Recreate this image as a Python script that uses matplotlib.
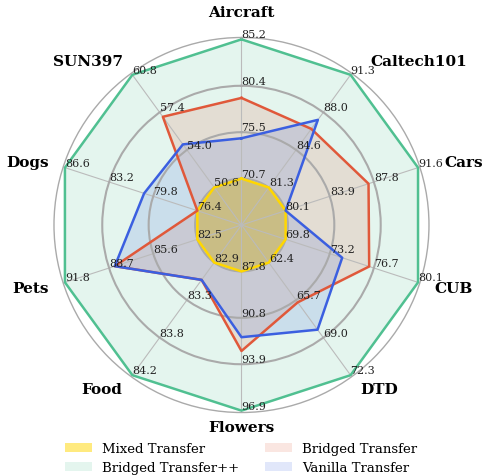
import numpy as np
import matplotlib.pyplot as plt
from matplotlib.patches import Patch

plt.rcParams['font.family'] = 'DejaVu Serif'

# Datasets, clockwise from the top
datasets = ['Aircraft', 'Caltech101', 'Cars', 'CUB', 'DTD',
            'Flowers', 'Food', 'Pets', 'Dogs', 'SUN397']

mixed = [70.7, 81.3, 80.1, 69.8, 62.4, 87.8, 82.9, 82.5, 76.4, 50.6]
bridged_pp = [85.2, 91.3, 91.6, 80.1, 72.3, 96.9, 84.2, 91.8, 86.6, 60.8]
bridged = [79.1, 86.5, 87.3, 76.3, 65.9, 93.0, 83.1, 88.3, 76.4, 57.0]
vanilla = [74.9, 87.3, 80.1, 74.2, 68.3, 92.1, 83.1, 88.3, 80.5, 54.5]

series = [
    ('Mixed Transfer', mixed, '#ffd700', 0.5),
    ('Bridged Transfer++', bridged_pp, '#50c091', 0.15),
    ('Bridged Transfer', bridged, '#e0583a', 0.15),
    ('Vanilla Transfer', vanilla, '#3b5fe0', 0.15),
]

rings = [0.25, 0.5, 0.75, 1.0]


def main():
    n = len(datasets)
    angles = np.arange(n) * 2 * np.pi / n

    allv = np.array([s[1] for s in series])
    lo = allv.min(axis=0)
    hi = allv.max(axis=0)

    def to_r(vals):
        vals = np.asarray(vals)
        return 0.25 + 0.75 * (vals - lo) / (hi - lo)

    fig = plt.figure(figsize=(4.82, 4.77), dpi=100)
    ax = fig.add_axes([0.112, 0.1331, 0.778, 0.7862], polar=True)
    ax.set_theta_offset(np.pi / 2)
    ax.set_theta_direction(-1)
    ax.set_ylim(0, 1.01)

    ax.set_xticks(angles)
    ax.set_xticklabels([])
    ax.set_yticks(rings[:-1])
    ax.set_yticklabels([])
    ax.xaxis.grid(True, color='#bbbbbb', lw=0.8)
    ax.yaxis.grid(True, color='#aaaaaa', lw=1.5)
    ax.spines['polar'].set_color('#aaaaaa')
    ax.spines['polar'].set_linewidth(1.0)

    closed = np.append(angles, angles[0])
    for name, vals, col, a in series:
        r = to_r(vals)
        r = np.append(r, r[0])
        ax.fill(closed, r, color=col, alpha=a, lw=0)
        ax.plot(closed, r, color=col, lw=1.8)

    # tick values along every axis
    for i in range(n):
        vals = np.linspace(lo[i], hi[i], 4)
        for rr, v in zip(rings, vals):
            ax.text(angles[i], rr, '%.1f' % v, ha='left', va='bottom',
                    fontsize=8, color='#222222')

    # dataset names
    extra = {'Aircraft': (0, 7.5), 'Caltech101': (7.5, 0), 'Cars': (7.5, 0)}
    for i, name in enumerate(datasets):
        c = np.sin(angles[i])  # x direction after offset/clockwise
        if abs(c) < 0.1:
            ha = 'center'
        elif c > 0:
            ha = 'left'
        else:
            ha = 'right'
        dx, dy = extra.get(name, (0, 0))
        ax.annotate(name, xy=(angles[i], 1.09), xytext=(dx, dy),
                    textcoords='offset points', ha=ha, va='center',
                    fontsize=11, fontweight='bold', annotation_clip=False)

    handles = [Patch(facecolor=col, alpha=a, edgecolor='none')
               for name, vals, col, a in series]
    labels = [s[0] for s in series]
    fig.legend(handles, labels, loc='center', bbox_to_anchor=(0.5, 0.038),
               ncol=2, frameon=False, fontsize=9.5, handlelength=2.05,
               handletextpad=0.75, columnspacing=2.0, labelspacing=0.45)

    fig.savefig('out.png', dpi=100)


if __name__ == "__main__":
    main()
